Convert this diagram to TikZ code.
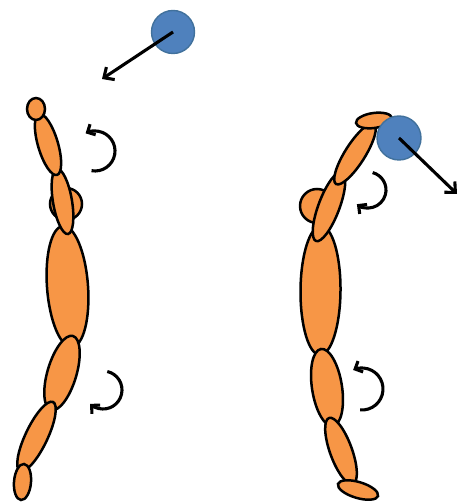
\documentclass[tikz,border=0pt]{standalone}
\usetikzlibrary{shapes.geometric,calc,arrows.meta}
\definecolor{skin}{HTML}{F79646}
\definecolor{ballfill}{HTML}{4F81BD}
\definecolor{balledge}{HTML}{41719C}
\tikzset{
  bodypart/.style={ellipse, draw=black, fill=skin, line width=2.5pt, inner sep=0pt, outer sep=0pt},
  headpart/.style={circle, draw=black, fill=skin, line width=2.5pt, inner sep=0pt},
  ball/.style={circle, draw=balledge, fill=ballfill, line width=1.4pt, inner sep=0pt},
  motion/.style={line width=3.1pt, -{Straight Barb[length=8pt,width=15pt]}},
  spin/.style={line width=3.1pt, -{Straight Barb[length=6pt,width=12pt]}}
}
% segment of the body: name, end point, end point, thickness
\newcommand\limb[4]{%
  \path let \p1=#2, \p2=#3,
    \n1={veclen(\x2-\x1,\y2-\y1)}, \n2={atan2(\y2-\y1,\x2-\x1)} in
    node[bodypart, minimum width=\n1, minimum height=#4, rotate=\n2] (#1) at ($#2!0.5!#3$) {};}
\begin{document}
\begin{tikzpicture}[x=1pt,y=1pt]
\useasboundingbox (0,0) rectangle (460,502);

% ---- left figure ----
\node[headpart, minimum size=32pt] (Lhead) at (66,298) {};
\limb{Ltorso}{(63,276)}{(72,155)}{41}
\limb{Lupper}{(57,333)}{(68,268)}{19}
\limb{Lfore}{(39,388)}{(57,327)}{20}
\node[bodypart, minimum width=18pt, minimum height=22pt] (Lhand) at (36,393) {};
\limb{Lthigh}{(73,166)}{(51,92)}{29}
\limb{Lshin}{(53,100)}{(20,31)}{22}
\limb{Lfoot}{(24,38)}{(21,2)}{17}

% ball coming in
\node[ball, minimum size=43pt] (Lball) at (173,470) {};
\coordinate (Lto) at (102,423);
\draw[motion] (Lball.center) -- (Lto);

% rotations
\draw[spin] (95,351) ++(-100:20) arc[start angle=-100, end angle=118, radius=20];
\draw[spin] (103,112) ++(77:19) arc[start angle=77, end angle=-133, radius=19];

% ---- right figure ----
\node[headpart, minimum size=34pt] (Rhead) at (317,296) {};
\limb{Rtorso}{(321,276)}{(320,147)}{40}
\limb{Rupper}{(342,330)}{(316,261)}{21}
\limb{Rfore}{(374,378)}{(336,318)}{20}
\limb{Rhand}{(356,379)}{(392,384)}{15}
\limb{Rthigh}{(321,153)}{(333,76)}{30}
\limb{Rshin}{(329,84)}{(353,18)}{22}
\limb{Rfoot}{(338,18)}{(378,6)}{16}

% ball going out
\node[ball, minimum size=44pt] (Rball) at (399,364) {};
\coordinate (Rto) at (457,308);
\draw[motion] (Rball.center) -- (Rto);

% rotations
\draw[spin] (368,312) ++(75:18) arc[start angle=75, end angle=-128, radius=18];
\draw[spin] (362,113) ++(-95:21) arc[start angle=-95, end angle=115, radius=21];
\end{tikzpicture}
\end{document}
